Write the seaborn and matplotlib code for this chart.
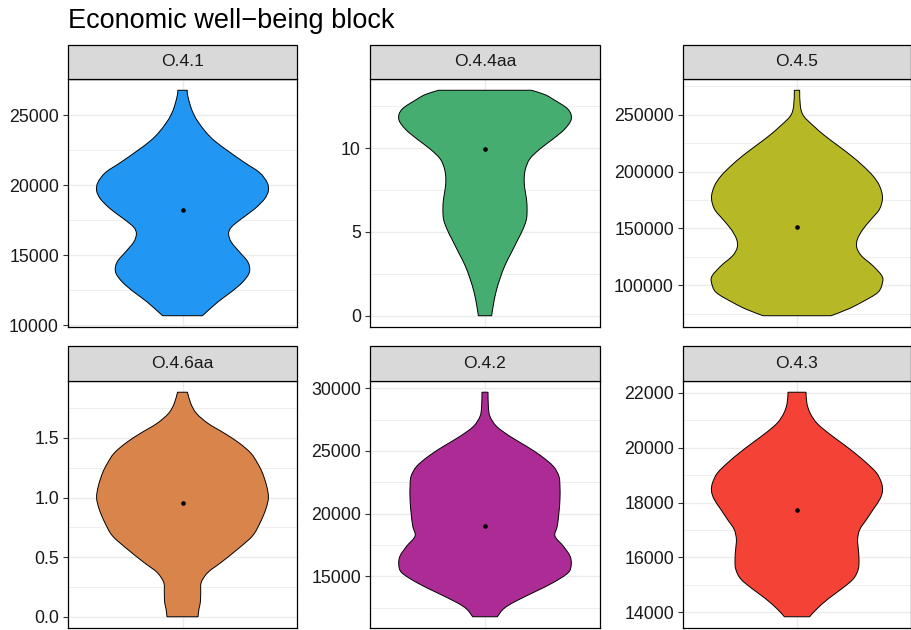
import numpy as np
import pandas as pd
import matplotlib
matplotlib.use("Agg")
import matplotlib.pyplot as plt
import seaborn as sns
from matplotlib.patches import Rectangle, PathPatch
from matplotlib.path import Path

# Indicators shown in the block, in panel order
panels = ["O.4.1", "O.4.4aa", "O.4.5", "O.4.6aa", "O.4.2", "O.4.3"]
fills = ["#2196F3", "#44AD6F", "#B6B825", "#D9844B", "#AD2B95", "#F44336"]

# Violin outlines: value levels and relative half-widths of the density
o41_y = [26770, 26470, 25640, 25000, 24450, 23740, 23150, 22440, 21610, 20900,
         20190, 19600, 19000, 18290, 17580, 16990, 16520, 15930, 15220, 14510,
         13800, 13090, 12370, 11660, 10670]
o41_w = [0.056, 0.058, 0.093, 0.135, 0.189, 0.278, 0.375, 0.529, 0.722, 0.896,
         0.985, 1.0, 0.954, 0.838, 0.683, 0.568, 0.537, 0.568, 0.664, 0.761,
         0.780, 0.703, 0.568, 0.413, 0.232]

o44_y = [13.45, 13.2, 12.92, 12.32, 11.73, 11.13, 10.54, 9.94, 9.35, 8.75, 8.15,
         7.56, 6.96, 6.37, 5.77, 5.18, 4.58, 3.79, 3.00, 2.20, 1.41, 0.62, 0.0]
o44_w = [0.538, 0.69, 0.788, 0.962, 1.0, 0.923, 0.788, 0.635, 0.519, 0.469, 0.454,
         0.462, 0.481, 0.488, 0.481, 0.442, 0.385, 0.308, 0.231, 0.173, 0.127,
         0.096, 0.077]

o45_y = [271350, 257600, 248830, 240060, 231290, 222520, 213740, 204970, 196200,
         187430, 177190, 166960, 158190, 149420, 140640, 133330, 126020, 117250,
         108480, 102630, 93860, 85090, 79240, 73390]
o45_w = [0.031, 0.039, 0.077, 0.193, 0.328, 0.483, 0.637, 0.772, 0.888, 0.965,
         1.0, 0.965, 0.869, 0.772, 0.707, 0.699, 0.753, 0.888, 0.992, 1.0,
         0.946, 0.753, 0.598, 0.398]

o46_y = [1.883, 1.789, 1.706, 1.622, 1.539, 1.456, 1.372, 1.289, 1.206, 1.094,
         0.997, 0.900, 0.789, 0.678, 0.567, 0.456, 0.372, 0.289, 0.206, 0.122,
         0.067, 0.0]
o46_w = [0.058, 0.096, 0.162, 0.296, 0.488, 0.662, 0.796, 0.873, 0.931, 0.981,
         1.0, 0.969, 0.904, 0.815, 0.642, 0.450, 0.296, 0.219, 0.212, 0.208,
         0.192, 0.181]

o42_y = [29680, 28540, 27750, 26950, 26160, 25360, 24570, 23770, 22980, 22180,
         21120, 20060, 19000, 18210, 17410, 16620, 15950, 15290, 14500, 13700,
         12910, 12380, 11770]
o42_w = [0.035, 0.039, 0.058, 0.135, 0.290, 0.483, 0.656, 0.792, 0.857, 0.869,
         0.869, 0.857, 0.838, 0.811, 0.907, 0.985, 1.0, 0.965, 0.792, 0.560,
         0.328, 0.212, 0.143]

o43_y = [22020, 21610, 21250, 20890, 20530, 20170, 19800, 19440, 19080, 18720,
         18420, 18120, 17750, 17390, 17030, 16670, 16310, 15940, 15580, 15220,
         14860, 14500, 14130, 13840]
o43_w = [0.105, 0.116, 0.155, 0.233, 0.368, 0.523, 0.678, 0.814, 0.930, 0.988,
         1.0, 0.969, 0.891, 0.814, 0.736, 0.709, 0.717, 0.725, 0.717, 0.659,
         0.523, 0.368, 0.233, 0.147]

# Central value marked by the dot in each violin
centres = [18220, 9.92, 151170, 0.958, 18975, 17716]

# Y-axis tick labels per panel
o41_ticks = [10000, 15000, 20000, 25000]
o44_ticks = [0, 5, 10]
o45_ticks = [100000, 150000, 200000, 250000]
o46_ticks = [0.0, 0.5, 1.0, 1.5]
o42_ticks = [15000, 20000, 25000, 30000]
o43_ticks = [14000, 16000, 18000, 20000, 22000]

outlines = [(o41_y, o41_w), (o44_y, o44_w), (o45_y, o45_w),
            (o46_y, o46_w), (o42_y, o42_w), (o43_y, o43_w)]
ticks = [o41_ticks, o44_ticks, o45_ticks, o46_ticks, o42_ticks, o43_ticks]
tick_fmt = ["{:.0f}", "{:.0f}", "{:.0f}", "{:.1f}", "{:.0f}", "{:.0f}"]

frames = []
for name, (ys, ws) in zip(panels, outlines):
    frames.append(pd.DataFrame({"panel": name, "y": ys, "w": ws}))
df = pd.concat(frames, ignore_index=True)

sns.set_theme(style="white")
plt.rcParams["font.family"] = ["Liberation Sans", "DejaVu Sans"]

fill_of = dict(zip(panels, fills))
centre_of = dict(zip(panels, centres))


def bezier_side(pts):
    """Cubic Bezier segments passing through the outline points of one side."""
    ext = np.vstack([pts[0], pts, pts[-1]])
    verts = []
    for i in range(len(pts) - 1):
        p0, p1, p2, p3 = ext[i], ext[i + 1], ext[i + 2], ext[i + 3]
        verts += [p1 + (p2 - p0) / 6.0, p2 - (p3 - p1) / 6.0, p2]
    return verts


def draw_violin(data, **kws):
    ax = plt.gca()
    name = data["panel"].iloc[0]
    y = data["y"].to_numpy(float)
    w = data["w"].to_numpy(float)
    half = 0.45 * w / w.max()
    left = np.column_stack([1 - half, y])
    right = np.column_stack([1 + half, y])[::-1]

    verts = [left[0]] + bezier_side(left) + [right[0]] + bezier_side(right)
    verts.append(left[0])
    n_side = 3 * (len(y) - 1)
    codes = ([Path.MOVETO] + [Path.CURVE4] * n_side + [Path.LINETO]
             + [Path.CURVE4] * n_side + [Path.CLOSEPOLY])
    patch = PathPatch(Path(np.array(verts), codes), facecolor=fill_of[name],
                      edgecolor="black", linewidth=0.7, zorder=2)
    ax.add_patch(patch)
    ax.scatter([1], [centre_of[name]], s=11, color="black", zorder=3,
               linewidths=0)
    rng = y.max() - y.min()
    ax.set_ylim(y.min() - 0.05 * rng, y.max() + 0.05 * rng)


g = sns.FacetGrid(df, col="panel", col_wrap=3, col_order=panels,
                  sharex=True, sharey=False, despine=False)
g.map_dataframe(draw_violin)
g.set_titles("")
g.set_axis_labels("", "")

fig = g.figure
fig.set_size_inches(9.11, 6.30)
fig.set_dpi(100)

W, H = 911.0, 630.0
lefts = [68, 370, 683]
widths = [229, 230, 228]
rows = [(79, 327, 34), (381, 628, 35)]

for i, ax in enumerate(g.axes.flat):
    r, c = divmod(i, 3)
    top, bottom, strip_h = rows[r]
    ax.set_position([lefts[c] / W, 1 - bottom / H, widths[c] / W,
                     (bottom - top) / H])
    ax.set_xlim(0.4, 1.6)
    ax.set_xticks([1])
    ax.set_xticklabels([])
    ax.tick_params(axis="x", length=0)

    lo, hi = ax.get_ylim()
    tk = ticks[i]
    ax.set_yticks(tk)
    ax.set_yticklabels([tick_fmt[i].format(t) for t in tk])
    step = tk[1] - tk[0]
    minors = [t + step / 2 for t in [tk[0] - step] + list(tk)]
    ax.set_yticks([m for m in minors if lo < m < hi], minor=True)
    ax.set_ylim(lo, hi)
    ax.tick_params(axis="y", which="major", length=3.5, width=0.8,
                   color="#333333", pad=3, labelsize=12.8,
                   labelcolor="#1A1A1A", left=True)
    ax.tick_params(axis="y", which="minor", length=0)

    ax.set_axisbelow(True)
    ax.grid(True, which="major", color="#EBEBEB", linewidth=1.0)
    ax.grid(True, which="minor", axis="y", color="#EDEDED", linewidth=0.6)
    for sp in ax.spines.values():
        sp.set_visible(True)
        sp.set_color("black")
        sp.set_linewidth(0.9)
        sp.set_zorder(5)

    h_ax = strip_h / (bottom - top)
    ax.add_patch(Rectangle((0, 1), 1, h_ax, transform=ax.transAxes,
                           facecolor="#D9D9D9", edgecolor="black",
                           linewidth=0.9, clip_on=False, zorder=6))
    ax.text(0.5, 1 + h_ax / 2, panels[i], transform=ax.transAxes,
            ha="center", va="center", fontsize=12.6, color="#1A1A1A",
            zorder=7)

fig.text(68 / W, 1 - 28.3 / H, "Economic well\u2212being block",
         ha="left", va="baseline", fontsize=19.5, color="black")

fig.savefig("out.png", dpi=100)
